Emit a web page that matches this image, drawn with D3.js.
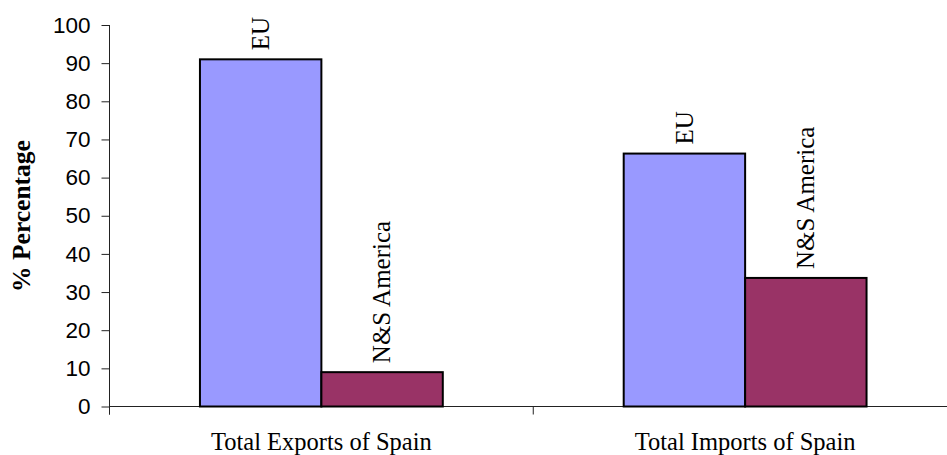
<!DOCTYPE html>
<html>
<head>
<meta charset="utf-8">
<script src="https://cdn.jsdelivr.net/npm/d3@7"></script>
<style>
  html, body { margin: 0; padding: 0; background: #fff; }
  svg { display: block; }
</style>
</head>
<body>
<svg id="chart" width="947" height="455"></svg>
<script>
// Trade shares of Spain by partner region (%)
const categories = ["Total Exports of Spain", "Total Imports of Spain"];
const seriesNames = ["EU", "N&S America"];
const euValues = [91, 66.3];
const nsAmericaValues = [9, 33.7];
const yTicks = [0, 10, 20, 30, 40, 50, 60, 70, 80, 90, 100];
const seriesColors = ["#9999ff", "#993366"];

const rows = categories.map((c, i) => ({
  category: c,
  values: [
    { series: seriesNames[0], value: euValues[i] },
    { series: seriesNames[1], value: nsAmericaValues[i] }
  ]
}));

const svg = d3.select("#chart");
const plotLeft = 109.5, plotBottom = 406.5, plotTop = 25, plotRight = 957;

const x = d3.scaleBand().domain(categories).range([plotLeft, plotRight]).padding(0);
const xs = d3.scaleBand().domain(seriesNames).range([0, x.bandwidth()])
  .paddingInner(0).paddingOuter(0.745);
const y = d3.scaleLinear().domain([0, 100]).range([plotBottom, plotTop]);
const color = d3.scaleOrdinal().domain(seriesNames).range(seriesColors);

// Y axis
const yAxis = d3.axisLeft(y).tickValues(yTicks).tickSize(8).tickPadding(11).tickSizeOuter(0);
const gy = svg.append("g").attr("transform", `translate(${plotLeft},0)`).call(yAxis);
gy.select(".domain").remove();
gy.selectAll(".tick line").attr("stroke", "#222");
gy.selectAll(".tick text")
  .attr("font-family", "'Liberation Sans', Arial, sans-serif")
  .attr("font-size", 22.5).attr("fill", "#000");
svg.append("line")
  .attr("x1", plotLeft).attr("x2", plotLeft)
  .attr("y1", y(100)).attr("y2", plotBottom + 8)
  .attr("stroke", "#222");

// X axis: boundary ticks between categories
svg.append("line")
  .attr("x1", plotLeft).attr("x2", plotRight)
  .attr("y1", plotBottom).attr("y2", plotBottom)
  .attr("stroke", "#222");
const boundaries = categories.map(c => x(c)).concat([plotRight]);
svg.selectAll(".xtick").data(boundaries).enter().append("line")
  .attr("class", "xtick")
  .attr("x1", d => d).attr("x2", d => d)
  .attr("y1", plotBottom).attr("y2", plotBottom + 8)
  .attr("stroke", "#222");

svg.selectAll(".xlabel").data(categories).enter().append("text")
  .attr("class", "xlabel")
  .attr("x", d => x(d) + x.bandwidth() / 2)
  .attr("y", 450)
  .attr("text-anchor", "middle")
  .attr("font-family", "'Liberation Serif', 'Times New Roman', serif")
  .attr("font-size", 24.5)
  .text(d => d);

// Bars
const groups = svg.selectAll(".grp").data(rows).enter().append("g")
  .attr("class", "grp")
  .attr("transform", d => `translate(${x(d.category)},0)`);

groups.selectAll("rect").data(d => d.values).enter().append("rect")
  .attr("x", d => xs(d.series))
  .attr("y", d => y(d.value))
  .attr("width", xs.bandwidth())
  .attr("height", d => y(0) - y(d.value))
  .attr("fill", d => color(d.series))
  .attr("stroke", "#000")
  .attr("stroke-width", 2);

// Series labels above each bar, rotated
groups.selectAll(".blabel").data(d => d.values).enter().append("text")
  .attr("class", "blabel")
  .attr("transform", d => `translate(${xs(d.series) + xs.bandwidth() / 2},${y(d.value) - 9}) rotate(-90)`)
  .attr("dy", "0.33em")
  .attr("text-anchor", "start")
  .attr("font-family", "'Liberation Serif', 'Times New Roman', serif")
  .attr("font-size", 25)
  .text(d => d.series);

// Y axis title
svg.append("text")
  .attr("transform", "translate(30,216) rotate(-90)")
  .attr("text-anchor", "middle")
  .attr("font-family", "'Liberation Serif', 'Times New Roman', serif")
  .attr("font-weight", "bold")
  .attr("font-size", 25.5)
  .text("% Percentage");
</script>
</body>
</html>
